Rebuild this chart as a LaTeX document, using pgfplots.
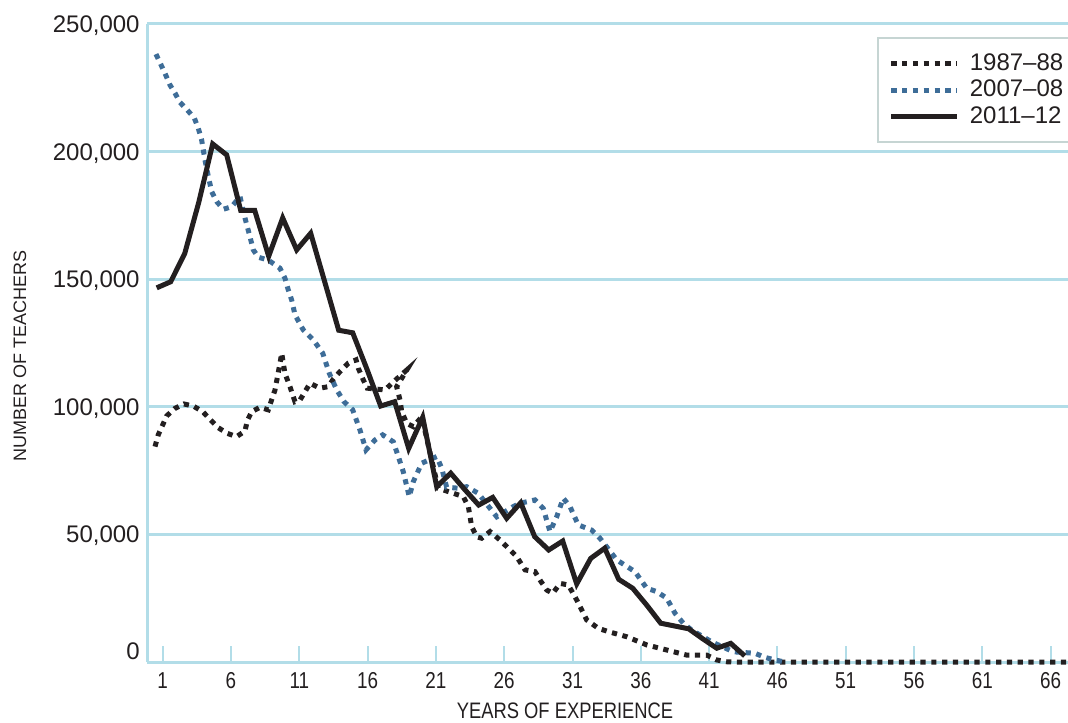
\documentclass[border=0pt]{standalone}
\usepackage{pgfplots}
\pgfplotsset{compat=1.18}
\usepackage{fontspec}
\setmainfont{Liberation Sans}
\newfontfamily\condfont{Liberation Sans}[FakeStretch=0.82]
\definecolor{gridblue}{HTML}{B2DDE8}
\definecolor{serblue}{HTML}{3E6D98}
\definecolor{serblack}{HTML}{231F20}
\definecolor{leggray}{HTML}{C6D5D3}
\definecolor{txt}{HTML}{231F20}
\begin{document}
\begin{tikzpicture}
\path[use as bounding box] (-73.65pt,-30pt) rectangle (460.35pt,331pt);
\begin{axis}[
  at={(0pt,0pt)}, anchor=south west,
  scale only axis, width=460.35pt, height=319pt,
  xmin=0.33, xmax=66.09, ymin=0, ymax=250,
  clip=false,
  axis x line*=bottom, axis y line*=left,
  axis line style={draw=gridblue, line width=1.5pt},
  ymajorgrids, grid style={draw=gridblue, line width=1.5pt},
  xtick={1.429,6.307,11.186,16.064,20.943,25.821,30.700,35.579,40.457,45.336,50.214,55.093,59.971,64.850},
  xticklabels={1,6,11,16,21,26,31,36,41,46,51,56,61,66},
  ytick={0,50,100,150,200,250},
  yticklabels={{\raisebox{5.5pt}{0}},{50,000},{100,000},{150,000},{200,000},{250,000}},
  xtick align=inside, major tick length=8pt,
  xtick style={draw=gridblue, line width=1pt},
  ytick style={draw=none},
  xticklabel style={anchor=base, yshift=-13pt, font=\condfont\fontsize{11.5}{12}\selectfont, text=txt},
  yticklabel style={anchor=base east, inner sep=0pt, xshift=-3.65pt, yshift=-4.25pt, font=\fontsize{12}{14}\selectfont, text=txt},
  xlabel={YEARS OF EXPERIENCE},
  ylabel={NUMBER OF TEACHERS},
  xlabel style={at={(axis description cs:0.4537,0)}, anchor=center, yshift=-24.5pt, font=\condfont\fontsize{11.2}{12}\selectfont, text=txt},
  ylabel style={at={(axis description cs:-0.13826,0.4796)}, anchor=center, font=\fontsize{9}{10}\selectfont, text=txt},
  legend image code/.code={\draw[#1] (0pt,0pt) -- (33pt,0pt);},
  legend style={at={(rel axis cs:0.7926,0.9796)}, anchor=north west,
    draw=leggray, line width=0.75pt, inner xsep=5.5pt, inner ysep=8pt,
    row sep=3.3pt, column sep=5pt,
    nodes={inner sep=0pt, text=txt},
    font=\fontsize{12}{14}\selectfont},
  legend cell align=left,
]
\addplot[serblack, line width=2.5pt, line cap=butt, dash pattern=on 2.6pt off 2.8pt] coordinates {
(0.88,84.4)(1.11,89.0)(1.43,92.9)(1.71,96.4)(2.31,99.4)(2.95,101.1)(3.61,100.3)(4.29,98.1)(4.81,95.1)(5.40,91.8)(6.04,89.6)(6.71,88.3)(7.31,90.5)(7.47,94.6)(7.79,98.1)(8.38,99.8)(8.97,98.8)(9.45,106.6)(9.81,117.1)(9.93,121.0)(10.16,113.1)(10.52,107.9)(10.88,102.0)(11.24,102.7)(11.95,109.2)(12.66,107.3)(13.26,107.9)(13.61,110.8)(14.09,113.8)(14.69,117.1)(15.24,118.4)(15.40,115.1)(15.76,110.5)(16.04,107.3)(17.31,106.6)(17.79,109.2)(18.86,114.4)(18.14,107.9)(18.38,102.7)(18.50,98.1)(18.86,93.5)(19.33,92.2)(19.93,96.1)(21.11,68.1)(22.19,66.1)(22.90,64.8)(23.26,60.9)(23.50,53.0)(23.86,49.1)(24.21,48.5)(24.81,51.1)(25.52,47.8)(26.11,44.6)(26.71,41.3)(27.31,36.1)(28.02,35.4)(28.38,32.1)(28.86,28.2)(29.29,26.9)(29.81,30.8)(30.40,30.2)(31.00,24.3)(31.71,16.5)(32.54,13.2)(33.26,11.9)(34.57,9.9)(36.00,6.7)(37.43,4.7)(38.86,2.7)(40.29,2.7)(41.00,0.8)(41.71,0.1)(42.19,0)(66.09,0)
};
\addlegendentry{1987--88}
\addplot[serblue, line width=2.5pt, line cap=butt, dash pattern=on 2.6pt off 2.8pt] coordinates {
(0.95,238.2)(1.59,230.7)(1.95,226.1)(2.31,222.9)(2.66,219.3)(3.19,216.3)(3.69,213.1)(3.97,209.2)(4.21,204.6)(4.45,196.7)(4.69,190.2)(4.93,184.3)(5.29,180.4)(5.76,177.4)(6.36,178.4)(6.95,182.4)(7.31,173.9)(7.66,166.7)(7.90,161.5)(8.26,158.6)(8.97,157.5)(9.81,154.3)(10.16,150.4)(10.40,145.8)(10.64,141.9)(10.88,136.0)(11.47,130.1)(12.19,126.2)(12.86,121.0)(13.33,113.1)(13.86,106.6)(14.38,102.0)(15.00,98.8)(15.52,90.9)(15.95,83.1)(16.59,87.0)(17.14,89.0)(17.90,86.3)(18.26,80.5)(18.61,74.6)(19.04,64.8)(19.33,70.7)(19.93,77.9)(21.00,80.5)(21.36,75.9)(21.71,68.5)(22.54,68.1)(23.14,68.7)(23.97,66.1)(24.81,60.2)(25.29,56.9)(26.47,60.9)(26.95,62.2)(28.02,63.5)(28.61,60.2)(29.09,51.1)(29.57,56.9)(30.04,64.2)(30.52,60.9)(31.11,53.7)(32.07,51.7)(32.66,48.5)(33.86,40.0)(35.16,35.4)(36.00,28.9)(36.71,27.6)(37.43,25.0)(38.02,19.1)(38.61,15.2)(39.21,12.5)(40.67,7.8)(42.19,4.0)(43.74,3.4)(44.45,1.8)(45.16,0.8)(45.86,0)
};
\addlegendentry{2007--08}
\addplot[serblack, line width=2.5pt, line join=miter, line cap=butt] coordinates {
(1,146.6)(2,149)(3,160)(4,180)(5,203)(6,198.7)(7,177)(8,177)(9,159)(10,174)(11,161.5)(12,168)(13,149)(14,130)(15,129)(16,115)(17,100.3)(18,102)(19,83.7)(20,95.9)(21,68.7)(22,74)(23,67.6)(24,61.5)(25,64.5)(26,56.3)(27,62.4)(28,49.1)(29,43.9)(30,47.4)(31,30.6)(32,40.6)(33,44.6)(34,32.4)(35,28.9)(36,22.3)(37,15.2)(38,14.1)(39,13)(40,9.1)(41,5.4)(42,7.3)(43,2.4)
};
\addlegendentry{2011--12}
\end{axis}
\end{tikzpicture}
\end{document}
